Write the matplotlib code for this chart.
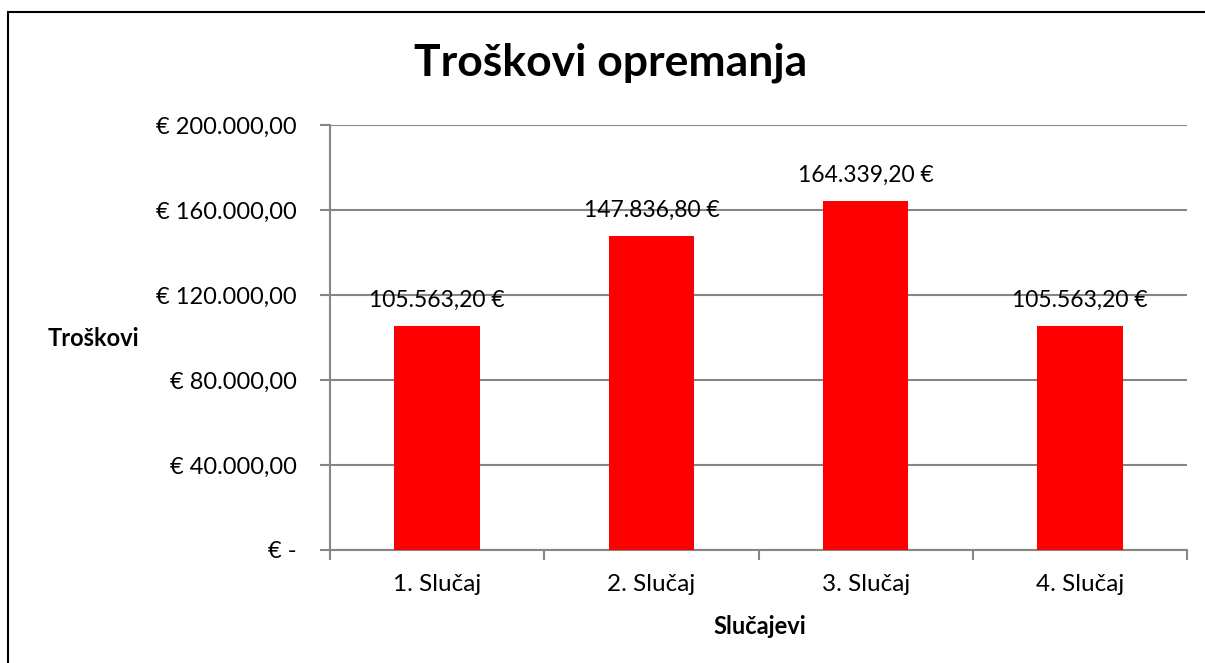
import matplotlib

matplotlib.use("Agg")
import matplotlib.pyplot as plt
from matplotlib.patches import Rectangle
from matplotlib.ticker import FixedLocator, FuncFormatter

plt.rcParams["font.family"] = ["Lato", "DejaVu Sans"]

# equipment costs per case, in EUR
categories = ["1. Slučaj", "2. Slučaj", "3. Slučaj", "4. Slučaj"]
costs = [105563.20, 147836.80, 164339.20, 105563.20]
y_ticks = [0, 40000, 80000, 120000, 160000, 200000]

GRID = "#868686"


def eur(v):
    # 1234567.8 -> "1.234.567,80"
    return f"{v:,.2f}".replace(",", "X").replace(".", ",").replace("X", ".")


def axis_fmt(v, _pos):
    return "€ -" if v == 0 else f"€ {eur(v)}"


fig = plt.figure(figsize=(12.05, 6.63), dpi=100)
fig.patches.append(Rectangle((8 / 1205, -0.01), 1.1, 1 - 12 / 663 + 0.01,
                             transform=fig.transFigure, fill=False,
                             edgecolor="black", linewidth=1.5))

ax = fig.add_axes([330 / 1205, 1 - 550 / 663, 857 / 1205, 425 / 663])
x = list(range(len(categories)))
ax.bar(x, costs, width=0.4, color="#ff0000", zorder=3)
for xi, v in zip(x, costs):
    ax.annotate(f"{eur(v)} €", (xi, v), xytext=(0, 11), textcoords="offset points",
                ha="center", va="bottom", fontsize=16.5)

ax.set_xlim(-0.5, len(categories) - 0.5)
ax.set_ylim(0, 200000)
ax.yaxis.set_major_locator(FixedLocator(y_ticks))
ax.yaxis.set_major_formatter(FuncFormatter(axis_fmt))
ax.grid(axis="y", color=GRID, linewidth=1.5, zorder=0)

# category ticks sit between the bars, labels in the middle
ax.set_xticks([i - 0.5 for i in range(len(categories) + 1)])
ax.set_xticklabels([])
ax.set_xticks(x, minor=True)
ax.set_xticklabels(categories, minor=True, fontsize=17.5)
ax.tick_params(axis="x", which="minor", length=0, pad=17)
ax.tick_params(axis="x", which="major", length=7, width=1.5, color=GRID)
ax.tick_params(axis="y", length=7, width=1.5, color=GRID, labelsize=17, pad=17)

for side in ("top", "right"):
    ax.spines[side].set_visible(False)
for side in ("left", "bottom"):
    ax.spines[side].set_color(GRID)
    ax.spines[side].set_linewidth(1.5)

fig.text(611 / 1205, 1 - 63 / 663, "Troškovi opremanja", ha="center", va="center",
         fontsize=32, fontweight="bold")
fig.text(93 / 1205, 1 - 338 / 663, "Troškovi", ha="center", va="center",
         fontsize=17, fontweight="bold")
fig.text(760 / 1205, 1 - 626 / 663, "Slučajevi", ha="center", va="center",
         fontsize=17, fontweight="bold")

fig.savefig("out.png", dpi=100)
